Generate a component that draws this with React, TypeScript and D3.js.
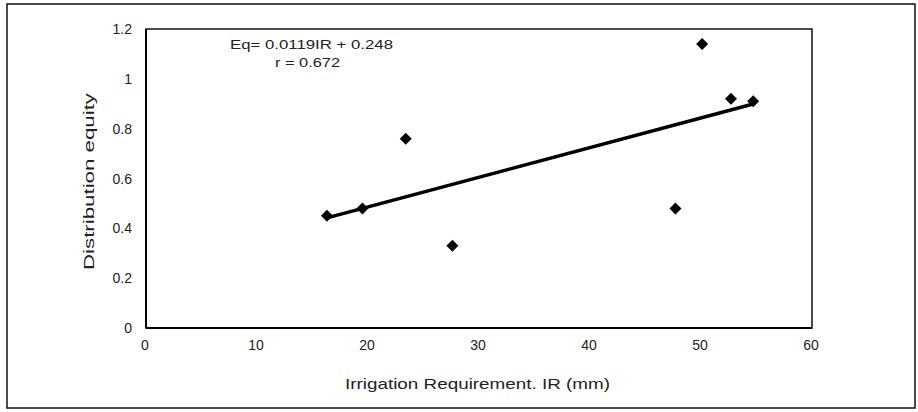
import { useEffect, useRef } from "react"
import * as d3 from "d3"

const irValues = [16.3, 19.5, 23.4, 27.6, 47.7, 50.1, 52.7, 54.7]
const equityValues = [0.45, 0.48, 0.76, 0.33, 0.48, 1.14, 0.92, 0.91]
const xTicks = [0, 10, 20, 30, 40, 50, 60]
const yTicks = [0, 0.2, 0.4, 0.6, 0.8, 1, 1.2]
const slope = 0.0119
const intercept = 0.248
const eqLabel = "Eq= 0.0119IR + 0.248"
const rLabel = "r = 0.672"
const xTitle = "Irrigation Requirement. IR (mm)"
const yTitle = "Distribution equity"

export default function App() {
  const svgRef = useRef<SVGSVGElement>(null)

  useEffect(() => {
    if (!svgRef.current) return
    const svg = d3.select(svgRef.current)
    svg.selectAll("*").remove()

    const width = 918
    const height = 412
    const margin = { top: 29, right: 106, bottom: 84, left: 146 }
    const innerWidth = width - margin.left - margin.right
    const innerHeight = height - margin.top - margin.bottom
    const font = "'Liberation Sans', Arial, sans-serif"

    // outer frame
    svg.append("rect")
      .attr("x", 7).attr("y", 4)
      .attr("width", 908).attr("height", 404)
      .attr("fill", "none").attr("stroke", "#111").attr("stroke-width", 1.5)

    const x = d3.scaleLinear().domain([0, 60]).range([0, innerWidth])
    const y = d3.scaleLinear().domain([0, 1.2]).range([innerHeight, 0])

    const g = svg.append("g").attr("transform", `translate(${margin.left}, ${margin.top})`)

    // plot box
    g.append("rect")
      .attr("width", innerWidth).attr("height", innerHeight)
      .attr("fill", "none").attr("stroke", "#111").attr("stroke-width", 1.5)
    g.append("line").attr("x1", 0).attr("x2", 0).attr("y1", 0).attr("y2", innerHeight)
      .attr("stroke", "#000").attr("stroke-width", 2)
    g.append("line").attr("x1", 0).attr("x2", innerWidth).attr("y1", innerHeight).attr("y2", innerHeight)
      .attr("stroke", "#000").attr("stroke-width", 2)

    // tick labels
    g.selectAll(".xt").data(xTicks).enter().append("text")
      .attr("x", (d) => x(d) - 1).attr("y", innerHeight + 22)
      .attr("text-anchor", "middle")
      .style("font-family", font).style("font-size", "14px").style("fill", "#222")
      .text((d) => d)

    g.selectAll(".yt").data(yTicks).enter().append("text")
      .attr("x", -14).attr("y", (d) => y(d) + 5)
      .attr("text-anchor", "end")
      .style("font-family", font).style("font-size", "14px").style("fill", "#222")
      .text((d) => d)

    // axis titles
    g.append("text")
      .attr("x", 199).attr("y", innerHeight + 61)
      .attr("textLength", 265).attr("lengthAdjust", "spacingAndGlyphs")
      .style("font-family", font).style("font-size", "15px").style("fill", "#222")
      .text(xTitle)

    g.append("text")
      .attr("transform", "rotate(-90)")
      .attr("x", -241).attr("y", -52)
      .attr("textLength", 177).attr("lengthAdjust", "spacingAndGlyphs")
      .style("font-family", font).style("font-size", "15px").style("fill", "#222")
      .text(yTitle)

    // trend line
    const xMin = d3.min(irValues) || 0
    const xMax = d3.max(irValues) || 0
    g.append("line")
      .attr("x1", x(xMin)).attr("y1", y(slope * xMin + intercept))
      .attr("x2", x(xMax)).attr("y2", y(slope * xMax + intercept))
      .attr("stroke", "#000").attr("stroke-width", 3.5)

    // points
    const diamond = d3.symbol().type(d3.symbolSquare).size(72)
    g.selectAll(".pt").data(irValues).enter().append("path")
      .attr("d", diamond)
      .attr("transform", (d, i) => `translate(${x(d)}, ${y(equityValues[i])}) rotate(45)`)
      .attr("fill", "#000")

    // equation text
    g.append("text")
      .attr("x", 84).attr("y", 20)
      .attr("textLength", 163).attr("lengthAdjust", "spacingAndGlyphs")
      .style("font-family", font).style("font-size", "13.5px").style("fill", "#222")
      .text(eqLabel)
    g.append("text")
      .attr("x", 129).attr("y", 38)
      .attr("textLength", 65).attr("lengthAdjust", "spacingAndGlyphs")
      .style("font-family", font).style("font-size", "13.5px").style("fill", "#222")
      .text(rLabel)
  }, [])

  return (
    <svg
      ref={svgRef}
      width={918}
      height={412}
      style={{ position: "absolute", left: 0, top: 0, background: "#fff" }}
    />
  )
}
